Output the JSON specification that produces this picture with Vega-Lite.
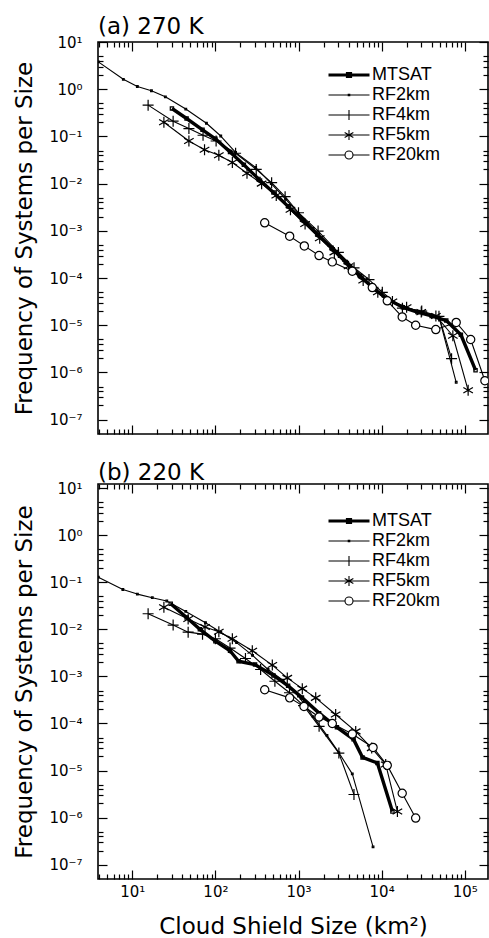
{
  "$schema": "https://vega.github.io/schema/vega-lite/v6.json",
  "padding": {"left": 13, "top": 15, "right": 0, "bottom": 0},
  "background": "white",
  "config": {
    "view": {"stroke": "black", "strokeWidth": 1.6},
    "font": "DejaVu Sans",
    "axis": {
      "domain": false, "grid": false, "tickColor": "black", "tickWidth": 1.2,
      "labelColor": "black", "labelFont": "DejaVu Sans", "labelFontSize": 15,
      "titleFont": "DejaVu Sans", "titleFontSize": 23, "titleFontWeight": "normal", "titleColor": "black",
      "labelFlush": false, "labelOverlap": false, "labelBound": false
    },
    "title": {"font": "DejaVu Sans", "fontSize": 23, "fontWeight": "normal", "color": "black", "anchor": "start", "frame": "group", "baseline": "alphabetic", "offset": -4},
    "legend": {"labelFont": "Liberation Sans", "labelFontSize": 18, "labelColor": "black", "padding": 0}
  },
  "data": {"name": "d"},
  "datasets": {
    "d": [
      {"p":"a","s":"MTSAT","x":30,"y":0.39},{"p":"a","s":"MTSAT","x":45,"y":0.24},{"p":"a","s":"MTSAT","x":70,"y":0.138},{"p":"a","s":"MTSAT","x":100,"y":0.089},{"p":"a","s":"MTSAT","x":150,"y":0.047},{"p":"a","s":"MTSAT","x":220,"y":0.025},{"p":"a","s":"MTSAT","x":330,"y":0.0126},{"p":"a","s":"MTSAT","x":500,"y":0.0065},{"p":"a","s":"MTSAT","x":750,"y":0.0033},{"p":"a","s":"MTSAT","x":1100,"y":0.00174},{"p":"a","s":"MTSAT","x":1700,"y":0.00083},{"p":"a","s":"MTSAT","x":2500,"y":0.00044},{"p":"a","s":"MTSAT","x":3700,"y":0.00022},{"p":"a","s":"MTSAT","x":5500,"y":0.000112},{"p":"a","s":"MTSAT","x":8000,"y":0.00006},{"p":"a","s":"MTSAT","x":12000,"y":0.000035},{"p":"a","s":"MTSAT","x":18000,"y":0.000024},{"p":"a","s":"MTSAT","x":27000,"y":0.000019},{"p":"a","s":"MTSAT","x":40000,"y":0.0000158},{"p":"a","s":"MTSAT","x":60000,"y":0.0000126},{"p":"a","s":"MTSAT","x":90000,"y":0.0000063},{"p":"a","s":"MTSAT","x":135000,"y":0.00000112},
      {"p":"a","s":"RF2km","x":3.9,"y":3.8},{"p":"a","s":"RF2km","x":7.8,"y":1.62},{"p":"a","s":"RF2km","x":11.5,"y":1.14},{"p":"a","s":"RF2km","x":17,"y":0.93},{"p":"a","s":"RF2km","x":25,"y":0.69},{"p":"a","s":"RF2km","x":44,"y":0.38},{"p":"a","s":"RF2km","x":78,"y":0.19},{"p":"a","s":"RF2km","x":116,"y":0.102},{"p":"a","s":"RF2km","x":175,"y":0.046},{"p":"a","s":"RF2km","x":305,"y":0.022},{"p":"a","s":"RF2km","x":470,"y":0.01},{"p":"a","s":"RF2km","x":700,"y":0.0047},{"p":"a","s":"RF2km","x":1000,"y":0.00234},{"p":"a","s":"RF2km","x":1500,"y":0.00112},{"p":"a","s":"RF2km","x":2300,"y":0.0005},{"p":"a","s":"RF2km","x":3500,"y":0.000234},{"p":"a","s":"RF2km","x":5300,"y":0.000112},{"p":"a","s":"RF2km","x":8000,"y":0.00006},{"p":"a","s":"RF2km","x":12000,"y":0.000035},{"p":"a","s":"RF2km","x":18000,"y":0.000025},{"p":"a","s":"RF2km","x":30000,"y":0.000019},{"p":"a","s":"RF2km","x":50000,"y":0.0000132},{"p":"a","s":"RF2km","x":79000,"y":0.00000062},
      {"p":"a","s":"RF4km","x":15.5,"y":0.46},{"p":"a","s":"RF4km","x":31,"y":0.21},{"p":"a","s":"RF4km","x":48,"y":0.147},{"p":"a","s":"RF4km","x":71,"y":0.106},{"p":"a","s":"RF4km","x":102,"y":0.08},{"p":"a","s":"RF4km","x":175,"y":0.044},{"p":"a","s":"RF4km","x":310,"y":0.02},{"p":"a","s":"RF4km","x":475,"y":0.0105},{"p":"a","s":"RF4km","x":690,"y":0.0053},{"p":"a","s":"RF4km","x":1000,"y":0.00242},{"p":"a","s":"RF4km","x":1720,"y":0.00099},{"p":"a","s":"RF4km","x":3020,"y":0.00035},{"p":"a","s":"RF4km","x":4660,"y":0.000165},{"p":"a","s":"RF4km","x":7050,"y":0.000093},{"p":"a","s":"RF4km","x":10200,"y":0.00005},{"p":"a","s":"RF4km","x":17800,"y":0.000023},{"p":"a","s":"RF4km","x":30400,"y":0.00002},{"p":"a","s":"RF4km","x":49000,"y":0.0000155},{"p":"a","s":"RF4km","x":69500,"y":0.00000196},
      {"p":"a","s":"RF5km","x":24,"y":0.2},{"p":"a","s":"RF5km","x":48,"y":0.08},{"p":"a","s":"RF5km","x":74,"y":0.052},{"p":"a","s":"RF5km","x":110,"y":0.04},{"p":"a","s":"RF5km","x":160,"y":0.028},{"p":"a","s":"RF5km","x":240,"y":0.0166},{"p":"a","s":"RF5km","x":360,"y":0.01},{"p":"a","s":"RF5km","x":540,"y":0.0056},{"p":"a","s":"RF5km","x":800,"y":0.0028},{"p":"a","s":"RF5km","x":1200,"y":0.0014},{"p":"a","s":"RF5km","x":1800,"y":0.0007},{"p":"a","s":"RF5km","x":2700,"y":0.00035},{"p":"a","s":"RF5km","x":4000,"y":0.000178},{"p":"a","s":"RF5km","x":6000,"y":0.000089},{"p":"a","s":"RF5km","x":9000,"y":0.00005},{"p":"a","s":"RF5km","x":13500,"y":0.000032},{"p":"a","s":"RF5km","x":20000,"y":0.000024},{"p":"a","s":"RF5km","x":30000,"y":0.000019},{"p":"a","s":"RF5km","x":45000,"y":0.0000158},{"p":"a","s":"RF5km","x":72000,"y":0.000006},{"p":"a","s":"RF5km","x":110000,"y":0.00000042},
      {"p":"a","s":"RF20km","x":392,"y":0.00148},{"p":"a","s":"RF20km","x":783,"y":0.00077},{"p":"a","s":"RF20km","x":1175,"y":0.00048},{"p":"a","s":"RF20km","x":1767,"y":0.0003},{"p":"a","s":"RF20km","x":2550,"y":0.00022},{"p":"a","s":"RF20km","x":4440,"y":0.00014},{"p":"a","s":"RF20km","x":7730,"y":0.000063},{"p":"a","s":"RF20km","x":11700,"y":0.000033},{"p":"a","s":"RF20km","x":17700,"y":0.000015},{"p":"a","s":"RF20km","x":25700,"y":0.00001},{"p":"a","s":"RF20km","x":44900,"y":0.0000081},{"p":"a","s":"RF20km","x":79000,"y":0.0000115},{"p":"a","s":"RF20km","x":118000,"y":0.000005},{"p":"a","s":"RF20km","x":175000,"y":0.00000067},
      {"p":"b","s":"MTSAT","x":29,"y":0.035},{"p":"b","s":"MTSAT","x":45,"y":0.0178},{"p":"b","s":"MTSAT","x":65,"y":0.01},{"p":"b","s":"MTSAT","x":100,"y":0.0056},{"p":"b","s":"MTSAT","x":150,"y":0.0035},{"p":"b","s":"MTSAT","x":190,"y":0.0021},{"p":"b","s":"MTSAT","x":300,"y":0.00178},{"p":"b","s":"MTSAT","x":500,"y":0.00105},{"p":"b","s":"MTSAT","x":750,"y":0.00063},{"p":"b","s":"MTSAT","x":1100,"y":0.000355},{"p":"b","s":"MTSAT","x":1770,"y":0.000166},{"p":"b","s":"MTSAT","x":2900,"y":0.000083},{"p":"b","s":"MTSAT","x":4600,"y":0.000046},{"p":"b","s":"MTSAT","x":5900,"y":0.000019},{"p":"b","s":"MTSAT","x":8900,"y":0.0000145},{"p":"b","s":"MTSAT","x":13500,"y":0.00000135},
      {"p":"b","s":"RF2km","x":3.9,"y":0.128},{"p":"b","s":"RF2km","x":7.7,"y":0.07},{"p":"b","s":"RF2km","x":11.5,"y":0.056},{"p":"b","s":"RF2km","x":17.4,"y":0.047},{"p":"b","s":"RF2km","x":26,"y":0.04},{"p":"b","s":"RF2km","x":44,"y":0.024},{"p":"b","s":"RF2km","x":76,"y":0.0138},{"p":"b","s":"RF2km","x":116,"y":0.0087},{"p":"b","s":"RF2km","x":180,"y":0.0052},{"p":"b","s":"RF2km","x":280,"y":0.0028},{"p":"b","s":"RF2km","x":430,"y":0.0014},{"p":"b","s":"RF2km","x":650,"y":0.00083},{"p":"b","s":"RF2km","x":1000,"y":0.00038},{"p":"b","s":"RF2km","x":1500,"y":0.00014},{"p":"b","s":"RF2km","x":2200,"y":0.000056},{"p":"b","s":"RF2km","x":3060,"y":0.000024},{"p":"b","s":"RF2km","x":4440,"y":0.0000085},{"p":"b","s":"RF2km","x":7890,"y":0.00000024},
      {"p":"b","s":"RF4km","x":15.5,"y":0.0214},{"p":"b","s":"RF4km","x":31,"y":0.0123},{"p":"b","s":"RF4km","x":47,"y":0.0087},{"p":"b","s":"RF4km","x":70,"y":0.0079},{"p":"b","s":"RF4km","x":100,"y":0.0063},{"p":"b","s":"RF4km","x":150,"y":0.004},{"p":"b","s":"RF4km","x":230,"y":0.0024},{"p":"b","s":"RF4km","x":350,"y":0.0014},{"p":"b","s":"RF4km","x":520,"y":0.00079},{"p":"b","s":"RF4km","x":780,"y":0.00045},{"p":"b","s":"RF4km","x":1150,"y":0.00024},{"p":"b","s":"RF4km","x":1770,"y":0.000087},{"p":"b","s":"RF4km","x":3060,"y":0.0000235},{"p":"b","s":"RF4km","x":4650,"y":0.0000031},
      {"p":"b","s":"RF5km","x":24,"y":0.0295},{"p":"b","s":"RF5km","x":47,"y":0.0166},{"p":"b","s":"RF5km","x":75,"y":0.0112},{"p":"b","s":"RF5km","x":110,"y":0.0089},{"p":"b","s":"RF5km","x":160,"y":0.0063},{"p":"b","s":"RF5km","x":278,"y":0.0035},{"p":"b","s":"RF5km","x":484,"y":0.00174},{"p":"b","s":"RF5km","x":733,"y":0.00093},{"p":"b","s":"RF5km","x":1111,"y":0.00055},{"p":"b","s":"RF5km","x":1611,"y":0.00035},{"p":"b","s":"RF5km","x":2800,"y":0.000155},{"p":"b","s":"RF5km","x":4880,"y":0.000068},{"p":"b","s":"RF5km","x":7600,"y":0.00003},{"p":"b","s":"RF5km","x":11200,"y":0.0000135},{"p":"b","s":"RF5km","x":15500,"y":0.00000135},
      {"p":"b","s":"RF20km","x":392,"y":0.00052},{"p":"b","s":"RF20km","x":783,"y":0.00035},{"p":"b","s":"RF20km","x":1164,"y":0.00023},{"p":"b","s":"RF20km","x":1767,"y":0.000137},{"p":"b","s":"RF20km","x":2550,"y":0.0001},{"p":"b","s":"RF20km","x":4440,"y":0.00006},{"p":"b","s":"RF20km","x":7890,"y":0.000031},{"p":"b","s":"RF20km","x":11700,"y":0.0000129},{"p":"b","s":"RF20km","x":17700,"y":0.0000033},{"p":"b","s":"RF20km","x":25700,"y":0.00000098}
    ]
  },
  "resolve": {"scale": {"color": "independent"}, "legend": {"color": "independent"}},
  "spacing": 25,
  "vconcat": [
    {
      "width": 390, "height": 392,
      "title": {"text": "(a) 270 K"},
      "transform": [{"filter": "datum.p === 'a'"}],
      "resolve": {"axis": {"x": "independent", "y": "independent"}},
      "layer": [
        {
          "mark": {"type": "line", "clip": true, "strokeJoin": "round"},
          "encoding": {
            "x": {"field": "x", "type": "quantitative", "scale": {"type": "log", "domain": [3.866, 190700], "nice": false},
              "axis": {"orient": "bottom", "title": null, "labels": false,
                "values": [4,5,6,7,8,9,10,20,30,40,50,60,70,80,90,100,200,300,400,500,600,700,800,900,1000,2000,3000,4000,5000,6000,7000,8000,9000,10000,20000,30000,40000,50000,60000,70000,80000,90000,100000],
                "tickSize": {"condition": {"test": "abs(log(datum.value)/LN10 - round(log(datum.value)/LN10)) < 0.0001", "value": -9}, "value": -5}}},
            "y": {"field": "y", "type": "quantitative", "scale": {"type": "log", "domain": [4.98e-8, 10], "nice": false},
              "axis": {"orient": "left", "title": "Frequency of Systems per Size", "titlePadding": 12, "labelPadding": 25, "labelBaseline": "middle",
                "values": [1e-7,2e-7,3e-7,4e-7,5e-7,1e-6,2e-6,3e-6,4e-6,5e-6,1e-5,2e-5,3e-5,4e-5,5e-5,1e-4,2e-4,3e-4,4e-4,5e-4,0.001,0.002,0.003,0.004,0.005,0.01,0.02,0.03,0.04,0.05,0.1,0.2,0.3,0.4,0.5,1,2,3,4,5,10],
                "labelExpr": "datum.value == 10 ? '10¹' : datum.value == 1 ? '10⁰' : datum.value == 0.1 ? '10⁻¹' : datum.value == 0.01 ? '10⁻²' : datum.value == 0.001 ? '10⁻³' : datum.value == 0.0001 ? '10⁻⁴' : datum.value == 0.00001 ? '10⁻⁵' : datum.value == 0.000001 ? '10⁻⁶' : datum.value == 0.0000001 ? '10⁻⁷' : ''",
                "tickSize": {"condition": {"test": "abs(log(datum.value)/LN10 - round(log(datum.value)/LN10)) < 0.0001", "value": -9}, "value": -5}}},
            "color": {"field": "s", "type": "nominal",
              "scale": {"domain": ["MTSAT","RF2km","RF4km","RF5km","RF20km"], "range": ["black","black","black","black","black"]},
              "legend": {"orient": "none", "legendX": 242, "legendY": 24, "title": null, "symbolSize": 100, "labelOffset": 14, "rowPadding": 2,
                "encode": {"symbols": {"update": {
                  "shape": {"signal": "datum.value === 'MTSAT' ? 'M-4.1,0H4.1M-0.3,-0.3H0.3V0.3H-0.3Z' : datum.value === 'RF2km' ? 'M-4.1,0H4.1M-0.15,-0.15H0.15V0.15H-0.15Z' : datum.value === 'RF4km' ? 'M-4.1,0H4.1M0,-1V1' : datum.value === 'RF5km' ? 'M-4.1,0H4.1M0,-1V1M-0.87,-0.5L0.87,0.5M-0.87,0.5L0.87,-0.5' : 'M-4.1,0H-0.8M0.8,0H4.1M-0.8,0A0.8,0.8 0 1,0 0.8,0A0.8,0.8 0 1,0 -0.8,0'"},
                  "strokeWidth": {"signal": "datum.value === 'MTSAT' ? 3.2 : 1.1"},
                  "stroke": {"value": "black"}, "fill": {"value": "transparent"}, "size": {"value": 100}, "opacity": {"value": 1}}}}}},
            "strokeWidth": {"condition": {"test": "datum.s === 'MTSAT'", "value": 3.4}, "value": 1.1}
          }
        },
        {
          "mark": {"type": "point", "clip": true, "size": 121, "strokeWidth": 1.2, "stroke": "black", "opacity": 1},
          "encoding": {
            "x": {"field": "x", "type": "quantitative", "scale": {"type": "log", "domain": [3.866, 190700], "nice": false},
              "axis": {"orient": "top", "title": null, "labels": false,
                "values": [4,5,6,7,8,9,10,20,30,40,50,60,70,80,90,100,200,300,400,500,600,700,800,900,1000,2000,3000,4000,5000,6000,7000,8000,9000,10000,20000,30000,40000,50000,60000,70000,80000,90000,100000],
                "tickSize": {"condition": {"test": "abs(log(datum.value)/LN10 - round(log(datum.value)/LN10)) < 0.0001", "value": -9}, "value": -5}}},
            "y": {"field": "y", "type": "quantitative", "scale": {"type": "log", "domain": [4.98e-8, 10], "nice": false},
              "axis": {"orient": "right", "title": null, "labels": false,
                "values": [1e-7,2e-7,3e-7,4e-7,5e-7,1e-6,2e-6,3e-6,4e-6,5e-6,1e-5,2e-5,3e-5,4e-5,5e-5,1e-4,2e-4,3e-4,4e-4,5e-4,0.001,0.002,0.003,0.004,0.005,0.01,0.02,0.03,0.04,0.05,0.1,0.2,0.3,0.4,0.5,1,2,3,4,5,10],
                "tickSize": {"condition": {"test": "abs(log(datum.value)/LN10 - round(log(datum.value)/LN10)) < 0.0001", "value": -9}, "value": -5}}},
            "shape": {"condition": [
              {"test": "datum.s === 'MTSAT'", "value": "M-0.3,-0.3H0.3V0.3H-0.3Z"},
              {"test": "datum.s === 'RF2km'", "value": "M-0.15,-0.15H0.15V0.15H-0.15Z"},
              {"test": "datum.s === 'RF4km'", "value": "M-1,0H1M0,-1V1"},
              {"test": "datum.s === 'RF5km'", "value": "M0,-1V1M-0.87,-0.5L0.87,0.5M-0.87,0.5L0.87,-0.5"}],
              "value": "M-0.75,0A0.75,0.75 0 1,0 0.75,0A0.75,0.75 0 1,0 -0.75,0"},
            "fill": {"condition": {"test": "datum.s === 'RF20km'", "value": "white"}, "value": "transparent"}
          }
        }
      ]
    },
    {
      "width": 390, "height": 395,
      "title": {"text": "(b) 220 K"},
      "transform": [{"filter": "datum.p === 'b'"}],
      "resolve": {"axis": {"x": "independent", "y": "independent"}},
      "layer": [
        {
          "mark": {"type": "line", "clip": true, "strokeJoin": "round"},
          "encoding": {
            "x": {"field": "x", "type": "quantitative", "scale": {"type": "log", "domain": [3.866, 190700], "nice": false},
              "axis": {"orient": "bottom", "title": "Cloud Shield Size (km²)", "titlePadding": 12, "labelPadding": 14, "labelBaseline": "top",
                "values": [4,5,6,7,8,9,10,20,30,40,50,60,70,80,90,100,200,300,400,500,600,700,800,900,1000,2000,3000,4000,5000,6000,7000,8000,9000,10000,20000,30000,40000,50000,60000,70000,80000,90000,100000],
                "labelExpr": "datum.value == 10 ? '10¹' : datum.value == 100 ? '10²' : datum.value == 1000 ? '10³' : datum.value == 10000 ? '10⁴' : datum.value == 100000 ? '10⁵' : ''",
                "tickSize": {"condition": {"test": "abs(log(datum.value)/LN10 - round(log(datum.value)/LN10)) < 0.0001", "value": -9}, "value": -5}}},
            "y": {"field": "y", "type": "quantitative", "scale": {"type": "log", "domain": [4.98e-8, 12.2], "nice": false},
              "axis": {"orient": "left", "title": "Frequency of Systems per Size", "titlePadding": 12, "labelPadding": 25, "labelBaseline": "middle",
                "values": [1e-7,2e-7,3e-7,4e-7,5e-7,1e-6,2e-6,3e-6,4e-6,5e-6,1e-5,2e-5,3e-5,4e-5,5e-5,1e-4,2e-4,3e-4,4e-4,5e-4,0.001,0.002,0.003,0.004,0.005,0.01,0.02,0.03,0.04,0.05,0.1,0.2,0.3,0.4,0.5,1,2,3,4,5,10],
                "labelExpr": "datum.value == 10 ? '10¹' : datum.value == 1 ? '10⁰' : datum.value == 0.1 ? '10⁻¹' : datum.value == 0.01 ? '10⁻²' : datum.value == 0.001 ? '10⁻³' : datum.value == 0.0001 ? '10⁻⁴' : datum.value == 0.00001 ? '10⁻⁵' : datum.value == 0.000001 ? '10⁻⁶' : datum.value == 0.0000001 ? '10⁻⁷' : ''",
                "tickSize": {"condition": {"test": "abs(log(datum.value)/LN10 - round(log(datum.value)/LN10)) < 0.0001", "value": -9}, "value": -5}}},
            "color": {"field": "s", "type": "nominal",
              "scale": {"domain": ["MTSAT","RF2km","RF4km","RF5km","RF20km"], "range": ["black","black","black","black","black"]},
              "legend": {"orient": "none", "legendX": 242, "legendY": 28, "title": null, "symbolSize": 100, "labelOffset": 14, "rowPadding": 2,
                "encode": {"symbols": {"update": {
                  "shape": {"signal": "datum.value === 'MTSAT' ? 'M-4.1,0H4.1M-0.3,-0.3H0.3V0.3H-0.3Z' : datum.value === 'RF2km' ? 'M-4.1,0H4.1M-0.15,-0.15H0.15V0.15H-0.15Z' : datum.value === 'RF4km' ? 'M-4.1,0H4.1M0,-1V1' : datum.value === 'RF5km' ? 'M-4.1,0H4.1M0,-1V1M-0.87,-0.5L0.87,0.5M-0.87,0.5L0.87,-0.5' : 'M-4.1,0H-0.8M0.8,0H4.1M-0.8,0A0.8,0.8 0 1,0 0.8,0A0.8,0.8 0 1,0 -0.8,0'"},
                  "strokeWidth": {"signal": "datum.value === 'MTSAT' ? 3.2 : 1.1"},
                  "stroke": {"value": "black"}, "fill": {"value": "transparent"}, "size": {"value": 100}, "opacity": {"value": 1}}}}}},
            "strokeWidth": {"condition": {"test": "datum.s === 'MTSAT'", "value": 3.4}, "value": 1.1}
          }
        },
        {
          "mark": {"type": "point", "clip": true, "size": 121, "strokeWidth": 1.2, "stroke": "black", "opacity": 1},
          "encoding": {
            "x": {"field": "x", "type": "quantitative", "scale": {"type": "log", "domain": [3.866, 190700], "nice": false},
              "axis": {"orient": "top", "title": null, "labels": false,
                "values": [4,5,6,7,8,9,10,20,30,40,50,60,70,80,90,100,200,300,400,500,600,700,800,900,1000,2000,3000,4000,5000,6000,7000,8000,9000,10000,20000,30000,40000,50000,60000,70000,80000,90000,100000],
                "tickSize": {"condition": {"test": "abs(log(datum.value)/LN10 - round(log(datum.value)/LN10)) < 0.0001", "value": -9}, "value": -5}}},
            "y": {"field": "y", "type": "quantitative", "scale": {"type": "log", "domain": [4.98e-8, 12.2], "nice": false},
              "axis": {"orient": "right", "title": null, "labels": false,
                "values": [1e-7,2e-7,3e-7,4e-7,5e-7,1e-6,2e-6,3e-6,4e-6,5e-6,1e-5,2e-5,3e-5,4e-5,5e-5,1e-4,2e-4,3e-4,4e-4,5e-4,0.001,0.002,0.003,0.004,0.005,0.01,0.02,0.03,0.04,0.05,0.1,0.2,0.3,0.4,0.5,1,2,3,4,5,10],
                "tickSize": {"condition": {"test": "abs(log(datum.value)/LN10 - round(log(datum.value)/LN10)) < 0.0001", "value": -9}, "value": -5}}},
            "shape": {"condition": [
              {"test": "datum.s === 'MTSAT'", "value": "M-0.3,-0.3H0.3V0.3H-0.3Z"},
              {"test": "datum.s === 'RF2km'", "value": "M-0.15,-0.15H0.15V0.15H-0.15Z"},
              {"test": "datum.s === 'RF4km'", "value": "M-1,0H1M0,-1V1"},
              {"test": "datum.s === 'RF5km'", "value": "M0,-1V1M-0.87,-0.5L0.87,0.5M-0.87,0.5L0.87,-0.5"}],
              "value": "M-0.75,0A0.75,0.75 0 1,0 0.75,0A0.75,0.75 0 1,0 -0.75,0"},
            "fill": {"condition": {"test": "datum.s === 'RF20km'", "value": "white"}, "value": "transparent"}
          }
        }
      ]
    }
  ]
}
